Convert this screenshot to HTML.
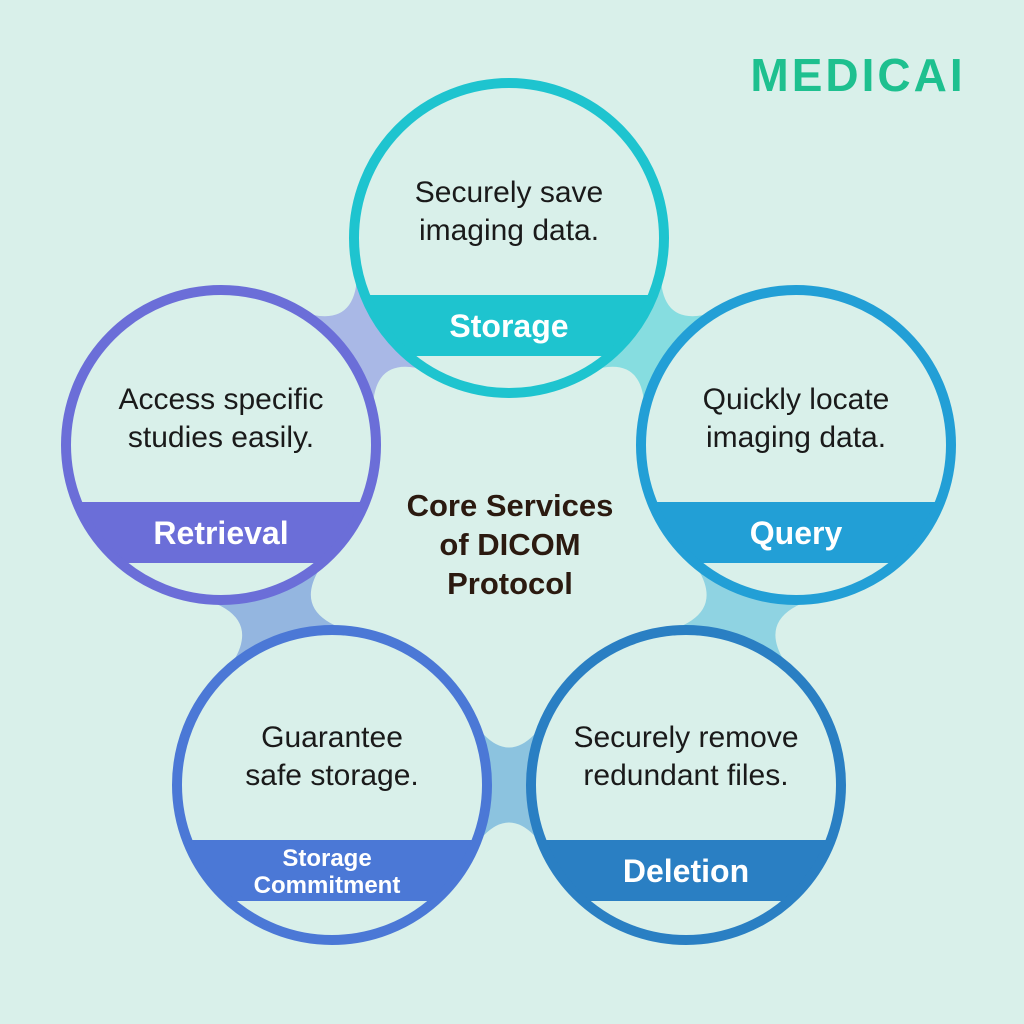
<!DOCTYPE html>
<html><head><meta charset="utf-8"><style>
html,body{margin:0;padding:0;background:#d9f0ea;}
svg{display:block}
text{font-family:"Liberation Sans",sans-serif}
</style></head><body>
<svg id="s" width="1024" height="1024" viewBox="0 0 1024 1024" xmlns="http://www.w3.org/2000/svg">
<rect width="1024" height="1024" fill="#d9f0ea"/>
<g id="conn"></g>
<g id="circ"></g>
<text x="858" y="91" text-anchor="middle" font-size="46" font-weight="bold" fill="#1ec08f" letter-spacing="3">MEDICAI</text>
<text x="510" y="516" text-anchor="middle" font-size="31" font-weight="bold" fill="#2b1a10">Core Services</text>
<text x="510" y="555" text-anchor="middle" font-size="31" font-weight="bold" fill="#2b1a10">of DICOM</text>
<text x="510" y="594" text-anchor="middle" font-size="31" font-weight="bold" fill="#2b1a10">Protocol</text>
</svg>
<script>
var NS="http://www.w3.org/2000/svg";
var C=[
 {x:509,y:238,c:"#1ec4cf",l:"#86dde0",t:["Securely save","imaging data."],lab:"Storage",by:295},
 {x:796,y:445,c:"#229fd6",l:"#8fd3e2",t:["Quickly locate","imaging data."],lab:"Query",by:502},
 {x:686,y:785,c:"#2a7fc3",l:"#8cc3df",t:["Securely remove","redundant files."],lab:"Deletion",by:840},
 {x:332,y:785,c:"#4b78d6",l:"#94b6e0",t:["Guarantee","safe storage."],lab:"Storage|Commitment",by:840},
 {x:221,y:445,c:"#6b6ed8",l:"#a9b8e6",t:["Access specific","studies easily."],lab:"Retrieval",by:502}
];
var R=155;
var conn=document.getElementById('conn'),circ=document.getElementById('circ');
function el(n,a,p){var e=document.createElementNS(NS,n);for(var k in a)e.setAttribute(k,a[k]);p.appendChild(e);return e;}
for(var i=0;i<5;i++){
 var A=C[i],B=C[(i+1)%5];
 var dx=B.x-A.x,dy=B.y-A.y,d=Math.hypot(dx,dy),ux=dx/d,uy=dy/d,nx=-uy,ny=ux;
 var a=0.62,ca=Math.cos(a),sa=Math.sin(a),mx=(A.x+B.x)/2,my=(A.y+B.y)/2,w=-15;
 function P(c,s,sg){return [c.x+R*(s*ca*ux+sg*sa*nx),c.y+R*(s*ca*uy+sg*sa*ny)];}
 var p1=P(A,1,1),p2=P(B,-1,1),p3=P(B,-1,-1),p4=P(A,1,-1);
 var q1=[mx+nx*w,my+ny*w],q2=[mx-nx*w,my-ny*w];
 el('path',{d:"M"+p1+" Q"+q1+" "+p2+" L"+p3+" Q"+q2+" "+p4+" Z",fill:A.l},conn);
}
C.forEach(function(c,i){
 var cp=el('clipPath',{id:'cp'+i},circ);el('circle',{cx:c.x,cy:c.y,r:R},cp);
 el('circle',{cx:c.x,cy:c.y,r:R,fill:"#d9f0ea"},circ);
 el('rect',{x:c.x-R,y:c.by,width:2*R,height:61,fill:c.c,'clip-path':'url(#cp'+i+')'},circ);
 el('circle',{cx:c.x,cy:c.y,r:R,fill:"none",stroke:c.c,'stroke-width':10},circ);
 var ty=c.by-93;
 c.t.forEach(function(s,j){var t=el('text',{x:c.x,y:ty+j*38,'text-anchor':'middle','font-size':30,fill:'#1a1a1a'},circ);t.textContent=s;});
 var parts=c.lab.split('|');
 if(parts.length==1){var t=el('text',{x:c.x,y:c.by+42,'text-anchor':'middle','font-size':32,'font-weight':'bold',fill:'#fff'},circ);t.textContent=parts[0];}
 else parts.forEach(function(s,j){var t=el('text',{x:c.x-5,y:c.by+26+j*27,'text-anchor':'middle','font-size':24,'font-weight':'bold',fill:'#fff'},circ);t.textContent=s;});
});
</script>
</body></html>
